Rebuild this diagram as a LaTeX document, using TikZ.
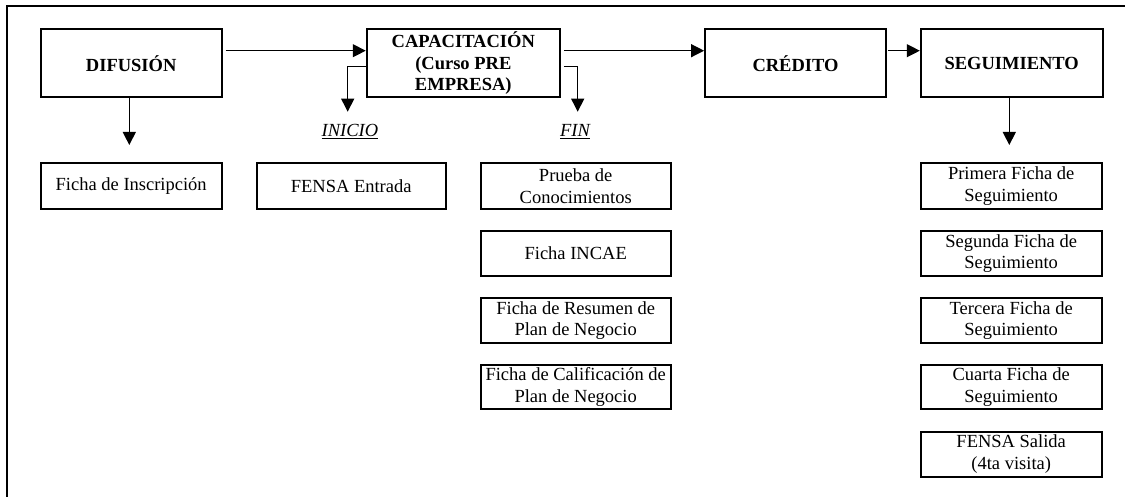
\documentclass[tikz,border=0pt]{standalone}
\usepackage{fontspec}
\setmainfont{Liberation Serif}
\usetikzlibrary{arrows.meta}
\begin{document}
\begin{tikzpicture}[x=1pt,y=-1pt,
  box/.style={draw,line width=1.8pt,rectangle,align=center,inner sep=0pt,
    font=\fontsize{18.5}{21.5}\selectfont},
  bbox/.style={box,font=\fontsize{18.5}{21.5}\selectfont\bfseries},
  lbl/.style={inner sep=0pt,font=\fontsize{18.5}{21.5}\selectfont\itshape},
  arr/.style={line width=1.2pt,-{Triangle[width=13pt,length=13pt]}}]
\useasboundingbox (0,0) rectangle (1125,497);
\draw[line width=2.2pt] (6.7,500) -- (6.7,6) -- (1130,6);
% top row
\node[bbox,minimum width=181pt,minimum height=68pt] (dif) at (131.2,63.3) {DIFUSIÓN};
\node[bbox,minimum width=193.3pt,minimum height=68pt] (cap) at (463.3,63.3) {CAPACITACIÓN\\(Curso PRE\\EMPRESA)};
\node[bbox,minimum width=181pt,minimum height=68pt] (cre) at (795.5,63.3) {CRÉDITO};
\node[bbox,minimum width=182pt,minimum height=68pt] (seg) at (1011.7,63.3) {SEGUIMIENTO};
% labels
\node[lbl] (ini) at (350,131.7) {\underline{INICIO}};
\node[lbl] (fin) at (575,131.7) {\underline{FIN}};
\coordinate (initip) at (347.7,111.7);
\coordinate (fintip) at (577.7,111.7);
\coordinate (diftip) at (129.3,145);
\coordinate (segtip) at (1009.3,145);
% bottom boxes
\node[box,minimum width=181pt,minimum height=46pt] (insc) at (131.2,186.3) {Ficha de Inscripción};
\node[box,minimum width=189pt,minimum height=46pt] (fent) at (351.2,186.3) {FENSA Entrada};
\node[box,minimum width=190pt,minimum height=46pt] (prue) at (575.7,186.3) {Prueba de\\Conocimientos};
\node[box,minimum width=190pt,minimum height=45pt] (incae) at (575.7,253.5) {Ficha INCAE};
\node[box,minimum width=190pt,minimum height=44.4pt] (resu) at (575.7,320.5) {Ficha de Resumen de\\Plan de Negocio};
\node[box,minimum width=190pt,minimum height=44.3pt] (cali) at (575.7,387.2) {Ficha de Calificación de\\Plan de Negocio};
\node[box,minimum width=181pt,minimum height=46pt] (s1) at (1011.2,186.3) {Primera Ficha de\\Seguimiento};
\node[box,minimum width=181pt,minimum height=45pt] (s2) at (1011.2,253.5) {Segunda Ficha de\\Seguimiento};
\node[box,minimum width=181pt,minimum height=44.4pt] (s3) at (1011.2,320.5) {Tercera Ficha de\\Seguimiento};
\node[box,minimum width=181pt,minimum height=44.3pt] (s4) at (1011.2,387.2) {Cuarta Ficha de\\Seguimiento};
\node[box,minimum width=181pt,minimum height=45pt] (s5) at (1011.2,454.2) {FENSA Salida\\(4ta visita)};
% arrows
\draw[arr] ([shift={(3pt,12.6pt)}]dif.east) -- ([yshift=12.6pt]cap.west);
\draw[arr] ([shift={(3pt,12.6pt)}]cap.east) -- ([yshift=12.6pt]cre.west);
\draw[arr] ([shift={(1pt,12.6pt)}]cre.east) -- ([yshift=12.6pt]seg.west);
\draw[arr] ([yshift=-3.4pt]cap.west) -| (initip);
\draw[arr] ([shift={(3pt,-3.4pt)}]cap.east) -| (fintip);
\draw[arr] (dif.south -| diftip) -- (diftip);
\draw[arr] (seg.south -| segtip) -- (segtip);
\end{tikzpicture}
\end{document}
